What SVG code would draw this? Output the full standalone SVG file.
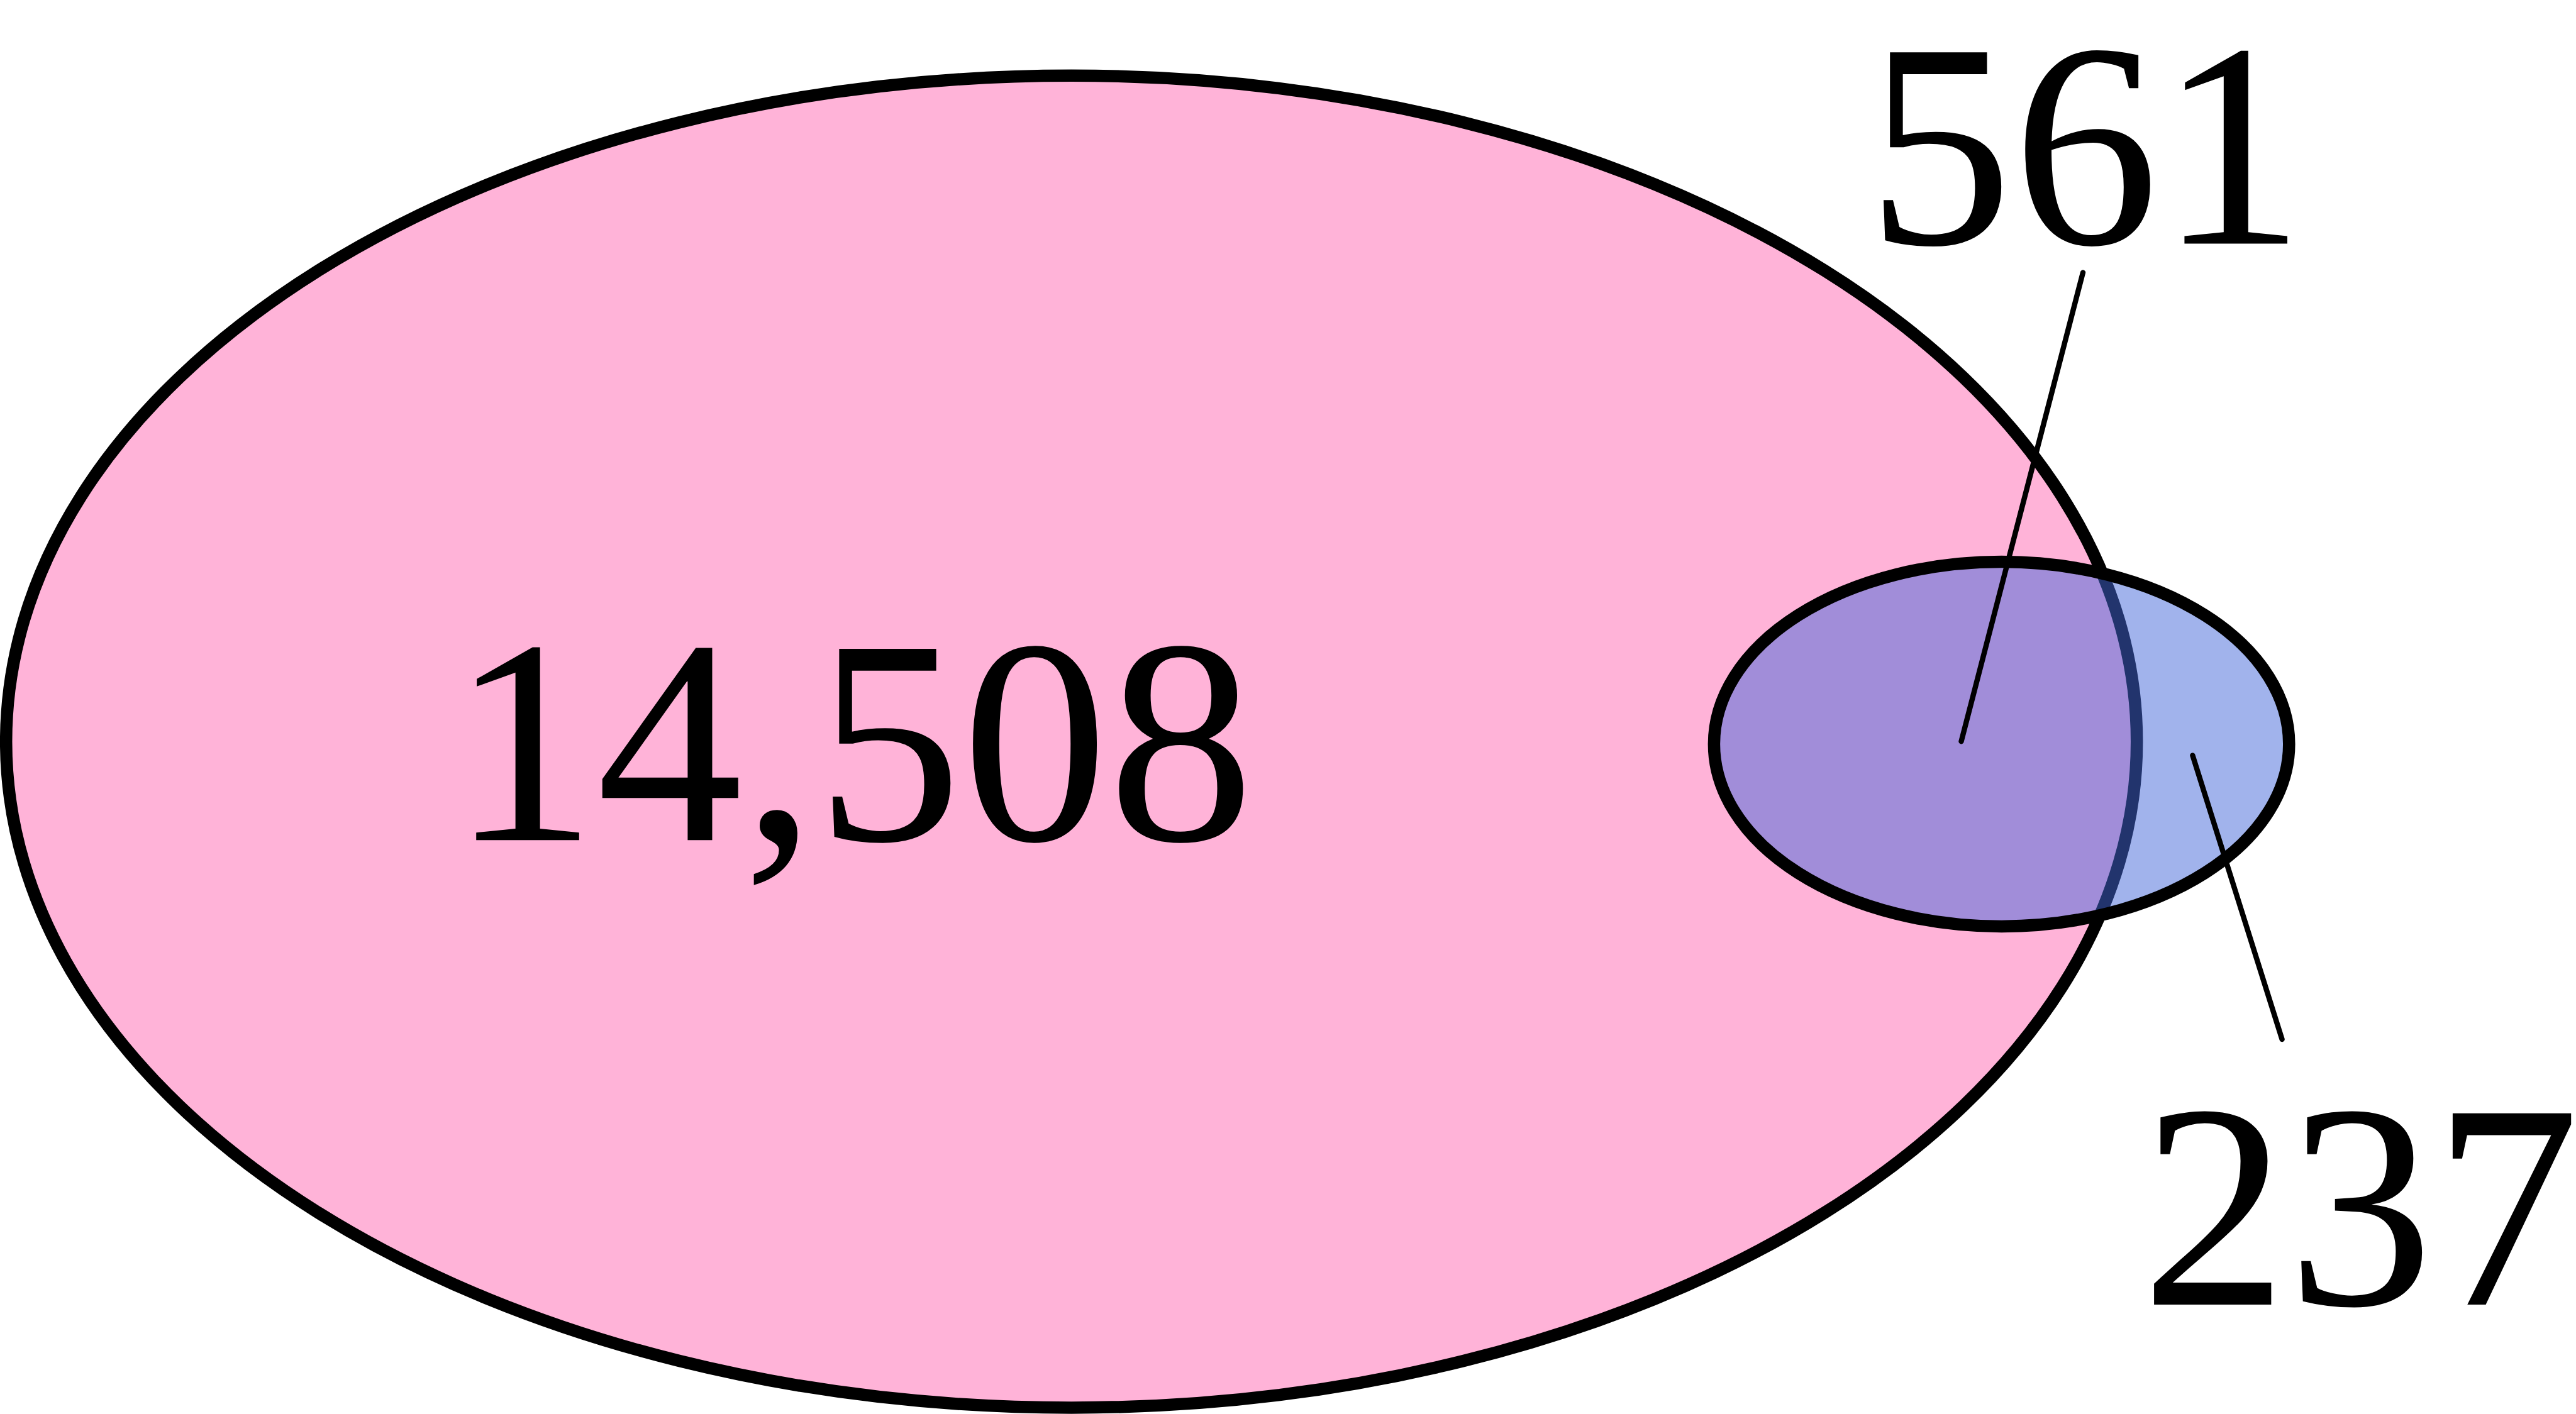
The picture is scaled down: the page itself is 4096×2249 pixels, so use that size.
<svg xmlns="http://www.w3.org/2000/svg" width="4096" height="2249" viewBox="0 0 4096 2249">
<style>
.lbl{font-family:"Liberation Serif","Times New Roman",serif;font-size:464.6px;fill:#000}
.conn{stroke:#000;stroke-width:8.4;stroke-linecap:round;fill:none}
</style>
<rect width="4096" height="2249" fill="#fff"/>
<g id="set-a">
<ellipse cx="1703.7" cy="1179.6" rx="1694" ry="1059.3" fill="#FFB3D8" stroke="#000" stroke-width="19.5"/>
</g>
<g id="set-b">
<ellipse cx="3182.6" cy="1183.5" rx="457.2" ry="289.9" fill="rgb(67,103,217)" fill-opacity="0.5" stroke="none"/>
<ellipse cx="3182.6" cy="1183.5" rx="457.2" ry="289.9" fill="none" stroke="#000" stroke-width="19.5"/>
</g>
<g id="connectors">
<line class="conn" x1="3118.5" y1="1179.2" x2="3312" y2="433.5"/>
<line class="conn" x1="3486.4" y1="1201.5" x2="3628.6" y2="1653"/>
</g>
<g id="labels">
<text id="label-a-only" class="lbl" x="716.4" y="1336.2">14,508</text>
<text id="label-overlap" class="lbl" x="2968" y="387.5">561</text>
<text id="label-b-only" class="lbl" x="3404.7" y="2075">237</text>
</g>
</svg>
